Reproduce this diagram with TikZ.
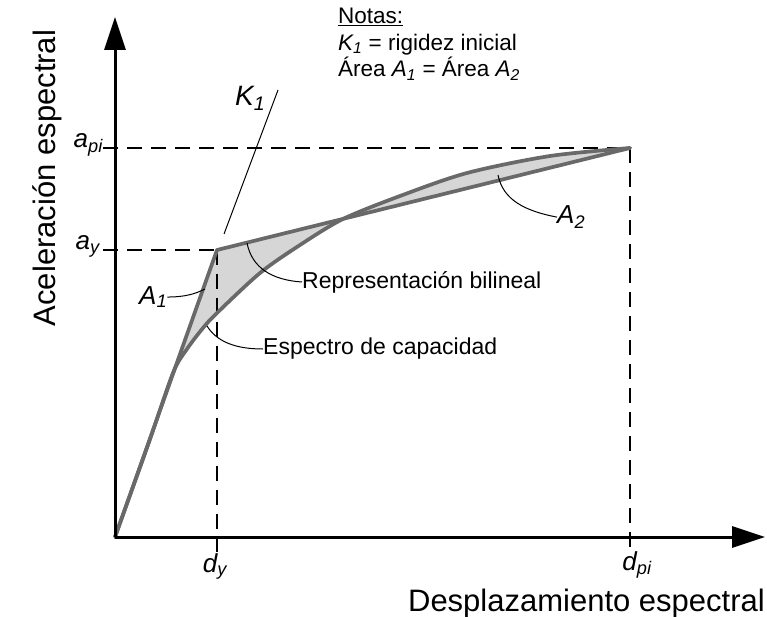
\documentclass[tikz,border=0pt]{standalone}
\usepackage{fontspec}
\setmainfont{Liberation Sans}
\usetikzlibrary{arrows.meta}
\newcommand{\isub}[2]{\textit{#1\textsubscript{#2}}}
\definecolor{curvecol}{RGB}{105,105,105}
\definecolor{fillcol}{RGB}{214,214,214}
\begin{document}
\begin{tikzpicture}[x=1pt,y=-1pt,
  axis/.style={line width=3pt,-{Triangle[length=33pt,width=21pt]}},
  curve/.style={line width=3.7pt,curvecol,line join=round,line cap=round},
  guide/.style={line width=1.1pt,dash pattern=on 15pt off 9pt},
  leader/.style={line width=1pt},
  lbl/.style={inner sep=0pt,font=\fontsize{26}{30}\selectfont},
  txt/.style={inner sep=0pt,font=\fontsize{23}{27}\selectfont},
  big/.style={inner sep=0pt,font=\fontsize{31}{36}\selectfont}]
\useasboundingbox (0,0) rectangle (767,617);
\coordinate (O) at (115,537);
\coordinate (Y) at (217,250);
\coordinate (P) at (630,148);
\coordinate (yax) at (115,17);
\coordinate (xax) at (765,537);
% shaded areas
\fill[fillcol] (O) -- (Y) -- (P) -- plot[smooth,tension=0.5] coordinates {(630,148) (550,156) (467,173) (400,196) (343,219) (300,245) (260,273) (217,313) (203,328) (187,349) (173,373) (148,445) (115,537)} -- cycle;
% guides
\coordinate (apiL) at (103,148);
\coordinate (ayL) at (103,250);
\coordinate (dyB) at (217,552);
\coordinate (dpiB) at (630,552);
\draw[guide] (apiL) -- (P);
\draw[guide] (ayL) -- (Y);
\draw[guide] (Y) -- (dyB);
\draw[guide] (P) -- (dpiB);
% curves
\draw[curve] plot[smooth,tension=0.5] coordinates {(115,537) (148,445) (173,373) (187,349) (203,328) (217,313) (260,273) (300,245) (343,219) (400,196) (467,173) (550,156) (630,148)};
\draw[curve] (O) -- (Y) -- (P);
% axes
\draw[axis] (O) -- (yax);
\draw[axis] (O) -- (xax);
% K1 line
\coordinate (k1a) at (224,234);
\coordinate (k1b) at (278,90);
\draw[line width=1pt] (k1a) -- (k1b);
\node[inner sep=0pt,font=\fontsize{28}{32}\selectfont,anchor=base west] (K1) at (235,106) {\isub{K}{1}};
% axis value labels
\node[lbl,anchor=base east] (api) at (103,148) {\isub{a}{pi}};
\node[lbl,anchor=base east] (ay) at (100,250) {\isub{a}{y}};
\node[lbl,anchor=base] (dy) at (215,572) {\isub{d}{y}};
\node[lbl,anchor=base] (dpi) at (637,570) {\isub{d}{pi}};
% axis titles
\node[big,anchor=base east] (xt) at (765,611) {Desplazamiento espectral};
\node[big,rotate=90] (yt) at (47,178) {Aceleración espectral};
% notes
\node[inner sep=0pt,anchor=north west,align=left,font=\fontsize{22.5}{26.5}\selectfont] (notes) at (338,8)
  {\underline{Notas:}\\ \isub{K}{1} = rigidez inicial\\ Área \isub{A}{1} = Área \isub{A}{2}};
% area labels and leaders
\node[lbl,anchor=base west] (A1) at (139,304) {\isub{A}{1}};
\node[lbl,anchor=base west] (A2) at (557,224) {\isub{A}{2}};
\node[txt,anchor=west] (rep) at (302,282) {Representación bilineal};
\node[txt,anchor=west] (esp) at (263,349) {Espectro de capacidad};
\coordinate (a1p) at (205,289);
\coordinate (a2p) at (498,175);
\coordinate (repp) at (247,243);
\coordinate (espp) at (207,326);
\draw[leader] (A1.east) .. controls (185,297) and (195,294) .. (a1p);
\draw[leader] (repp) .. controls (252,268) and (272,280) .. (rep.west);
\draw[leader] (espp) .. controls (217,342) and (236,349) .. (esp.west);
\draw[leader] (a2p) .. controls (503,200) and (525,211) .. (A2.west);
\end{tikzpicture}
\end{document}
